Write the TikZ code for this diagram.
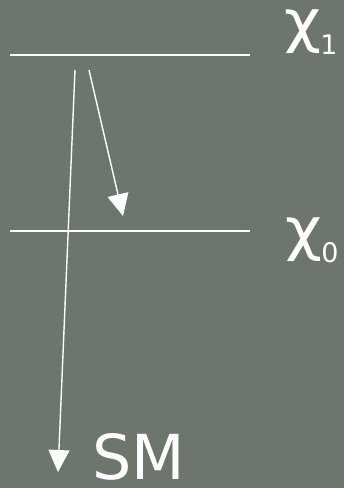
\documentclass[tikz,border=0pt]{standalone}
\usepackage{fontspec}
\setmainfont{DejaVu Sans}
\usepackage{tikz}
\usepackage{xcolor}
\usetikzlibrary{arrows.meta, positioning}
\definecolor{cBoard}{RGB}{108,118,108}
\tikzset{
	level/.style={draw=white, line width=1.6pt},
	decay/.style={draw=white, line width=1.4pt, -{Triangle[length=22pt, width=21pt]}},
	statelabel/.style={text=white, inner sep=0pt, anchor=south west, font=\fontsize{58}{58}\selectfont},
	idxlabel/.style={text=white, inner sep=0pt, anchor=base west, font=\fontsize{27}{27}\selectfont},
	smlabel/.style={text=white, inner sep=0pt, anchor=base west, font=\fontsize{62}{62}\selectfont},
}
\newcommand{\widechi}{\scalebox{1.1}[1]{χ}}

\begin{document}
\begin{tikzpicture}[x=1pt, y=-1pt]
			\fill[cBoard] (0,0) rectangle (344,488);
			\useasboundingbox (0,0) rectangle (344,488);
			% energy levels
			\coordinate (upL) at (10,55);
			\coordinate (upR) at (250,55);
			\coordinate (loL) at (10,231);
			\coordinate (loR) at (250,231);
			\draw[level] (upL) -- (upR);
			\draw[level] (loL) -- (loR);
			\node[statelabel] (chiOne) at (284,54) {\widechi};
			\node[idxlabel] (idxOne) at ([xshift=-1pt]chiOne.south east) {1};
			\node[statelabel] (chiZero) at (285,262) {\widechi};
			\node[idxlabel] (idxZero) at ([xshift=-1pt]chiZero.south east) {0};
			\node[smlabel] (sm) at (92,479) {SM};
			% decays
			\coordinate (srcA) at (75,70);
			\coordinate (srcB) at (89,70);
			\coordinate (tipA) at (58,472);
			\coordinate (tipB) at (123,216);
			\draw[decay] (srcA) -- (tipA);
			\draw[decay] (srcB) -- (tipB);
		\end{tikzpicture}
\end{document}
